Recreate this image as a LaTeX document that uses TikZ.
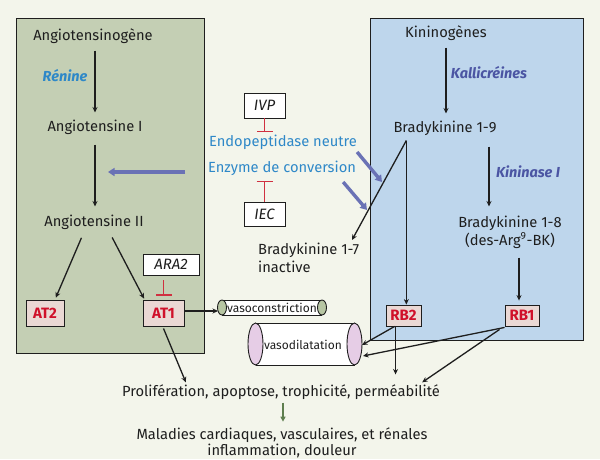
\documentclass[tikz,border=0pt]{standalone}
\usepackage{fontspec}
\setmainfont{Fira Sans}
\usetikzlibrary{arrows.meta,calc}
\definecolor{bg}{HTML}{F3F5EB}
\definecolor{lgreen}{HTML}{C4CFB4}
\definecolor{lblue}{HTML}{BED6EC}
\definecolor{txt}{HTML}{1E1E1E}
\definecolor{cyanb}{HTML}{2E88C8}
\definecolor{purpb}{HTML}{4B55A3}
\definecolor{arrowb}{HTML}{6A72B5}
\definecolor{redc}{HTML}{D0102A}
\definecolor{inhib}{HTML}{D03040}
\definecolor{rbox}{HTML}{EAD8D4}
\definecolor{green2}{HTML}{5E7E4E}
\definecolor{cylg}{HTML}{B7C6A3}
\definecolor{cylp}{HTML}{E6CDE6}
\begin{document}
\begin{tikzpicture}[x=1pt,y=-1pt,
  lbl/.style={text=txt, font=\fontsize{14.7}{17}\selectfont, inner sep=0pt},
  enz/.style={font=\fontsize{14.5}{17}\selectfont\bfseries\itshape, inner sep=0pt},
  enzb/.style={text=cyanb, font=\fontsize{14.7}{17}\selectfont, inner sep=0pt},
  rec/.style={draw=txt, fill=rbox, text=redc, font=\fontsize{15}{17}\selectfont\bfseries, inner sep=0pt, line width=0.9pt},
  inh/.style={draw=txt, fill=white, text=txt, font=\fontsize{15}{17}\selectfont\itshape, inner sep=0pt, line width=0.9pt},
  arr/.style={draw=txt, line width=1.3pt, -{Stealth[length=5.5pt,width=5pt]}},
  barr/.style={draw=arrowb, line width=3.4pt, -{Triangle[length=6.5pt,width=8pt]}},
  tbar/.style={draw=inhib, line width=1.3pt, -{Bar[width=16pt,line width=1.3pt]}},
  cyl/.style={text=txt, font=\fontsize{12}{14}\selectfont, inner sep=0pt}]
\useasboundingbox (0,0) rectangle (600,459);
\fill[bg] (0,0) rectangle (600,459);
% panels
\draw[fill=lgreen, draw=txt, line width=1pt] (16,18) rectangle (204,353);
\draw[fill=lblue, draw=txt, line width=1pt] (370,18) rectangle (583,340);
% left side texts
\node[lbl] (agen) at (93,36) {Angiotensinogène};
\node[enz, text=cyanb] (ren) at (65,76) {Rénine};
\node[lbl] (a1) at (95,127) {Angiotensine I};
\node[lbl] (a2) at (94,222) {Angiotensine II};
\node[rec, minimum width=38, minimum height=26] (at2) at (45,313) {AT2};
\node[rec, minimum width=41, minimum height=26] (at1) at (163.5,313) {AT1};
\node[inh, minimum width=56, minimum height=21] (ara) at (171,264.5) {ARA2};
% middle
\node[inh, minimum width=41, minimum height=25] (ivp) at (264.5,105.5) {IVP};
\node[inh, minimum width=41, minimum height=24] (iec) at (264.5,214) {IEC};
\node[enzb] (endo) at (283,142) {Endopeptidase neutre};
\node[enzb] (enzc) at (282,168) {Enzyme de conversion};
% right side
\node[lbl] (kin) at (446,33) {Kininogènes};
\node[enz, text=purpb] (kal) at (489,73) {Kallicréines};
\node[lbl, align=center] (b18) at (510,232) {Bradykinine 1-8\\[1pt](des-Arg\textsuperscript{9}-BK)};
\node[lbl] (b19) at (445,128) {Bradykinine 1-9};
\node[enz, text=purpb] (kinI) at (528,172) {Kininase I};
\node[lbl, align=left, anchor=north west, font=\fontsize{14.7}{18}\selectfont] (b17) at (258,243) {Bradykinine 1-7\\inactive};
\node[rec, minimum width=35, minimum height=21] (rb2) at (403.5,315.5) {RB2};
\node[rec, minimum width=34, minimum height=21] (rb1) at (522,315.5) {RB1};
% cylinders
\fill[white] (222,300) rectangle (322,315);
\draw[txt, line width=0.9pt] (222,300) -- (322,300) (222,315) -- (322,315);
\draw[txt, fill=cylg, line width=0.9pt] (222,307.5) ellipse [x radius=4.5, y radius=7.5];
\draw[txt, fill=cylg, line width=0.9pt] (322,307.5) ellipse [x radius=4.5, y radius=7.5];
\node[cyl] (vc) at (272,307.5) {vasoconstriction};
\fill[white] (255.5,323) rectangle (354.5,365);
\draw[txt, line width=0.9pt] (255.5,323) -- (354.5,323) (255.5,365) -- (354.5,365);
\draw[txt, fill=cylp, line width=0.9pt] (255.5,344) ellipse [x radius=7.5, y radius=21];
\draw[txt, fill=cylp, line width=0.9pt] (354.5,344) ellipse [x radius=7.5, y radius=21];
\node[cyl] (vd) at (303,345) {vasodilatation};
\coordinate (vcin) at (218,311);
\coordinate (vdin1) at (362,345);
\coordinate (vdin2) at (363,356);
% bottom
\node[lbl] (prol) at (281,392) {Prolifération, apoptose, trophicité, perméabilité};
\node[lbl, align=center, font=\fontsize{14.7}{13}\selectfont] (mal) at (282,443) {Maladies cardiaques, vasculaires, et rénales\\inflammation, douleur};
% arrows left
\draw[arr, shorten <=7pt, shorten >=7pt] (a1.north |- agen.south) -- (a1.north);
\draw[arr, shorten <=10pt, shorten >=8pt] (a1.south) -- (a1.south |- a2.north);
\draw[arr, shorten <=9pt, shorten >=2pt] ($(a2.south)+(-9,0)$) -- ($(at2.north)+(10,0)$);
\draw[arr, shorten <=9pt, shorten >=1pt] ($(a2.south)+(14,0)$) -- ($(at1.north west)+(2,0)$);
\draw[tbar, shorten >=4pt] ($(ara.south -| at1.north)+(0,5)$) -- (at1.north);
\draw[arr] (at1.east |- vcin) -- (vcin);
\draw[arr] ($(at1.south)+(0,2)$) -- ($(prol.north west)+(64,-2)$);
% middle
\coordinate (bs) at (185,172);
\coordinate (be) at (108,172);
\draw[barr] (bs) -- (be);
\draw[tbar] (ivp.south) -- ++(0,14);
\draw[tbar] (iec.north) -- ++(0,-21);
\draw[barr] ($(endo.east)+(0,10)$) -- (382,182);
\draw[barr] ($(enzc.east)+(-13,14)$) -- (367,210);
% right
\coordinate (bk) at ($(b19.south west)+(13,5)$);
\draw[arr, shorten <=7pt, shorten >=7pt] (kin.south) -- (kin.south |- b19.north);
\draw[arr] ($(b19.south)+(44,11)$) -- ($(b18.north)+(-21,-9)$);
\draw[arr] ($(b18.south)+(9,9)$) -- ($(rb1.north)+(-3,-4)$);
\draw[arr] (bk) -- (bk |- rb2.north);
\draw[arr] (bk) -- ($(b17.north west)+(94,-3)$);
\draw[arr] ($(rb2.south west)+(9,0)$) -- (vdin1);
\draw[arr] ($(rb2.south west)+(10,0)$) -- ($(rb2.south west)+(10,48)$);
\draw[arr] ($(rb1.south west)+(0,1)$) -- (vdin2);
\draw[arr] ($(rb1.south west)+(-5,3)$) -- ($(prol.north east)+(-18,-2)$);
\draw[draw=green2, line width=1.6pt, -{Triangle[length=5pt,width=5pt]}] ($(prol.south)+(2,3)$) -- ($(prol.south)+(2,22)$);
\end{tikzpicture}
\end{document}
